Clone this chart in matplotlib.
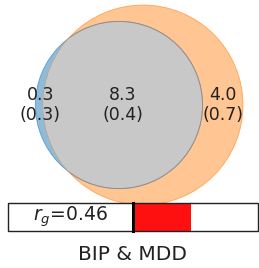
import numpy as np
import matplotlib
matplotlib.use('Agg')
import matplotlib.pyplot as plt
from matplotlib.patches import Circle, Rectangle

# values (in thousands of variants) and their SDs
names = ['BIP', 'MDD']
unique1, shared, unique2 = 0.3, 8.3, 4.0
sd1, sd_shared, sd2 = 0.3, 0.4, 0.7
rg = 0.46

# circle radii from areas
k = 28.5
r1 = k*np.sqrt(unique1 + shared)
r2 = k*np.sqrt(unique2 + shared)

def overlap(d, ra, rb):
    if d >= ra + rb:
        return 0.0
    if d <= abs(ra - rb):
        return np.pi*min(ra, rb)**2
    a1 = ra**2*np.arccos((d**2 + ra**2 - rb**2)/(2*d*ra))
    a2 = rb**2*np.arccos((d**2 + rb**2 - ra**2)/(2*d*rb))
    a3 = 0.5*np.sqrt((-d+ra+rb)*(d+ra-rb)*(d-ra+rb)*(d+ra+rb))
    return a1 + a2 - a3

target = shared*k**2*np.pi
lo, hi = abs(r1-r2), r1+r2
for i in range(60):
    mid = (lo+hi)/2
    if overlap(mid, r1, r2) > target:
        lo = mid
    else:
        hi = mid
d = (lo+hi)/2

fig = plt.figure(figsize=(2.59, 2.68), dpi=100)
ax = fig.add_axes([0, 0, 1, 1])
ax.set_xlim(0, 259)
ax.set_ylim(268, 0)
ax.axis('off')

cy = 105
cx2 = 243 - r2
cx1 = cx2 - d

c1 = Circle((cx1, cy), r1, facecolor=(0.12, 0.47, 0.71, 0.5), edgecolor=(0.12, 0.47, 0.71, 0.6), lw=0.6)
c2 = Circle((cx2, cy), r2, facecolor=(1.0, 0.5, 0.05, 0.45), edgecolor=(1.0, 0.5, 0.05, 0.6), lw=0.6)
ax.add_patch(c1)
ax.add_patch(c2)
clip = Circle((cx2, cy), r2, transform=ax.transData, facecolor='none', edgecolor='none')
ax.add_patch(clip)
inter = Circle((cx1, cy), r1, facecolor='#c8c8c8', edgecolor='#8f8f8f', lw=0.7)
ax.add_patch(inter)
inter.set_clip_path(clip)

fs = 12.5
tc = '#222222'
ax.text((cx1 - r1 + cx2 - r2)/2 + 1, cy, '%.1f\n(%.1f)' % (unique1, sd1), ha='center', va='center', fontsize=fs, color=tc, linespacing=1.1)
ax.text(cx1 + 4, cy, '%.1f\n(%.1f)' % (shared, sd_shared), ha='center', va='center', fontsize=fs, color=tc, linespacing=1.1)
ax.text((cx1 + r1 + cx2 + r2)/2, cy, '%.1f\n(%.1f)' % (unique2, sd2), ha='center', va='center', fontsize=fs, color=tc, linespacing=1.1)

# rg bar
bx0, bx1 = 8, 258
by0, by1 = 203, 231
mid = (bx0 + bx1)/2
half = (bx1 - bx0)/2
ax.add_patch(Rectangle((bx0, by0), bx1 - bx0, by1 - by0, facecolor='white', edgecolor='none'))
ax.add_patch(Rectangle((mid, by0), rg*half, by1 - by0, facecolor='#ff1010', edgecolor='none'))
ax.plot([mid, mid], [by0, by1], color='black', lw=2.2)
ax.add_patch(Rectangle((bx0, by0), bx1 - bx0, by1 - by0, facecolor='none', edgecolor='#222222', lw=1))
ax.text((bx0 + mid)/2, (by0 + by1)/2, '$r_g$=%.2f' % rg, ha='center', va='center', fontsize=13.5, color=tc)
ax.text(mid, 255, ' & '.join(names), ha='center', va='center', fontsize=14.5, color=tc)

fig.savefig('out.png', dpi=100)
